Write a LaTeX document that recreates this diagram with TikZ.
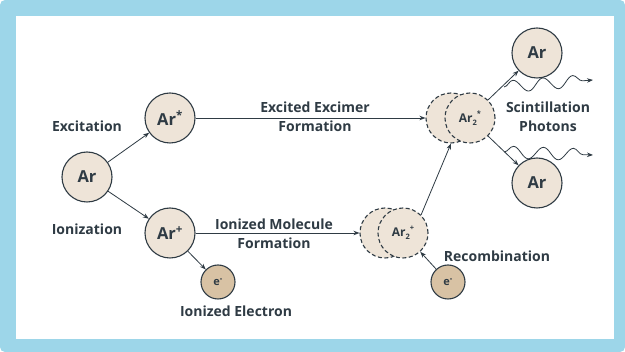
\documentclass[tikz,border=0pt]{standalone}
\usepackage{fontspec}
\setmainfont{Open Sans}
\usetikzlibrary{arrows.meta,decorations.pathmorphing}
\definecolor{frameblue}{HTML}{9DD6E9}
\definecolor{atomfill}{HTML}{EEE4D8}
\definecolor{elecfill}{HTML}{D8C2A4}
\definecolor{ink}{HTML}{2F3B44}
\newcommand{\dimlabel}[1]{Ar\raisebox{-0.4ex}{\fontsize{7.5}{8}\selectfont 2}\raisebox{0.9ex}{\fontsize{7.5}{8}\selectfont #1}}

\begin{document}
\begin{tikzpicture}[x=1pt,y=-1pt,
    atom/.style={circle,draw=ink,line width=1.1pt,fill=atomfill,minimum size=50pt,inner sep=0pt,
      text=ink,font=\fontsize{16.5}{16.5}\selectfont\bfseries},
    dimer/.style={atom,dash pattern=on 4pt off 2.5pt,font=\fontsize{12}{12}\selectfont\bfseries},
    elec/.style={atom,fill=elecfill,minimum size=34pt,font=\fontsize{11}{11}\selectfont\bfseries},
    lbl/.style={align=center,text=ink,font=\fontsize{14}{19}\selectfont\bfseries},
    link/.style={draw=ink,line width=0.8pt,-{Stealth[length=6pt,width=4.5pt]}},
    photon/.style={link,decorate,decoration={snake,amplitude=6pt,segment length=30pt,post length=3pt}}]
  % frame
  \fill[frameblue,rounded corners=5pt] (0,0) rectangle (625,352);
  \fill[white] (16,16) rectangle (614,339);

  % atoms
  \node[atom] (ar) at (87,177) {Ar};
  \node[atom] (ars) at (170,118) {Ar\textsuperscript{*}};
  \node[atom] (arp) at (170,233) {Ar\textsuperscript{+}};
  \node[elec] (eion) at (218,282) {e\textsuperscript{-}};
  \node[dimer] (ar2sb) at (451,118) {};
  \node[dimer] (ar2s) at (470,118) {\dimlabel{*}};
  \node[dimer] (ar2pb) at (385,233) {};
  \node[dimer] (ar2p) at (403,233) {\dimlabel{+}};
  \node[elec] (erec) at (448,282) {e\textsuperscript{-}};
  \node[atom] (arup) at (537,53) {Ar};
  \node[atom] (ardn) at (537,183) {Ar};

  % labels
  \node[lbl] (excit) at (87,126) {Excitation};
  \node[lbl] (ioniz) at (87,229) {Ionization};
  \node[lbl] (exform) at (315,117) {Excited Excimer\\Formation};
  \node[lbl] (ionform) at (274,234) {Ionized Molecule\\Formation};
  \node[lbl] (ionel) at (236,311) {Ionized Electron};
  \node[lbl] (recomb) at (497,256) {Recombination};
  \node[lbl] (scint) at (548,117) {Scintillation\\Photons};

  % reactions
  \draw[link] (ar) -- (ars);
  \draw[link] (ar) -- (arp);
  \draw[link] (arp) -- (eion);
  \draw[link] (ars) -- (ar2sb);
  \draw[link] (arp) -- (ar2pb);
  \draw[link] (ar2p.45) -- (ar2sb.south);
  \draw[link] (erec) -- (ar2p);
  \draw[link] (ar2s.45) -- (arup);
  \draw[link] (ar2s.-45) -- (ardn);

  % photons
  \coordinate (ph1a) at (504,87);
  \coordinate (ph1b) at (593,80);
  \coordinate (ph2a) at (504,152);
  \coordinate (ph2b) at (593,155);
  \draw[photon] (ph1a) -- (ph1b);
  \draw[photon] (ph2a) -- (ph2b);
\end{tikzpicture}
\end{document}
